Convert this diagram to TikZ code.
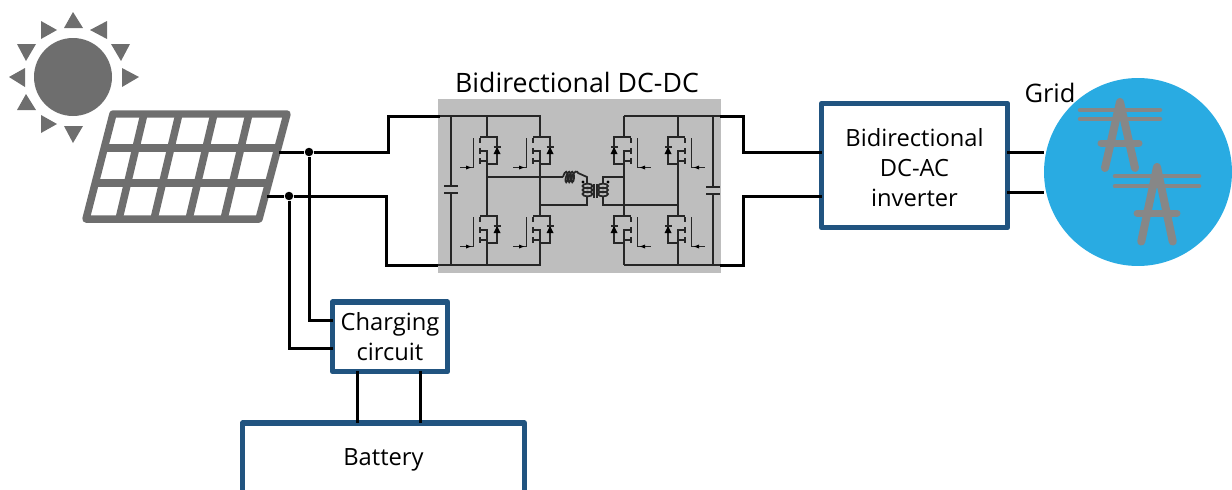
\documentclass[tikz,border=0pt]{standalone}
\usepackage{fontspec}
\setmainfont{Open Sans}
\definecolor{boxblue}{HTML}{215480}
\definecolor{gridblue}{HTML}{29ABE2}
\definecolor{icongray}{HTML}{6E6E6E}
\definecolor{towergray}{HTML}{878787}
\definecolor{dcgray}{HTML}{BEBEBE}
\tikzset{
  wire/.style={draw=black, line width=0.06cm},
  thin wire/.style={draw=black!85, line width=0.035cm},
  dot/.style={circle, fill=black, inner sep=0pt, minimum size=0.17cm},
  blockbox/.style={draw=boxblue, line width=0.11cm, line join=round, fill=white, outer sep=0pt, align=center, font=\fontsize{13.5}{17}\selectfont},
  mosfet/.pic={
    \draw[thin wire] (0,0) -- (-7,0);
    \draw[thin wire] (-7,14) -- (0,14) -- (0,24) -- (-7,24);
    \draw[thin wire] (-7.3,1) -- (-7.3,6) (-7.3,11) -- (-7.3,17) (-7.3,21) -- (-7.3,27);
    \draw[thin wire] (0,0) -- (10,0) -- (10,27) -- (0,27);
    \fill[black] (10,10) -- (6.5,17) -- (13.5,17) -- cycle;
    \draw[thin wire] (6.5,10) -- (13.5,10);
    \draw[thin wire] (-13.5,1) -- (-13.5,30.5) -- (-27,30.5);
    \fill[black] (-16,30.5) -- (-21,28.5) -- (-21,32.5) -- cycle;
  }
}

\begin{document}
\begin{tikzpicture}[x=0.02cm, y=-0.02cm]
\useasboundingbox (0,0) rectangle (1232,490);

% sun
\fill[icongray] (73,77) circle[radius=39];
\foreach \ax/\ay/\bx/\by/\cx/\cy in {73/12/64/28/83/28, 41/21/41/39/57/30, 107/21/107/39/90/30,
    17/44/36/44/26/61, 111/44/130/44/121/61, 9/77/25/68/25/87, 139/77/122/68/122/87,
    26/94/17/110/36/110, 41/115/41/133/57/124, 73/143/64/126/83/126}
  \fill[icongray] (\ax,\ay) -- (\bx,\by) -- (\cx,\cy) -- cycle;

% solar panel
\draw[icongray, line width=0.15cm, line join=round] (113,114) -- (287,114) -- (259,219) -- (86,219) -- cycle;
\draw[icongray, line width=0.15cm] (104,148) -- (278,148) (95,183) -- (269,183);
\foreach \tx/\bx in {144/119, 179/154, 214/189, 249/224}
  \draw[icongray, line width=0.15cm] (\tx,114) -- (\bx,219);

% blocks
\node[fill=dcgray, minimum width=5.66cm, minimum height=3.48cm, outer sep=0pt] (dcdc) at (579.5,186) {};
\node[font=\fontsize{15.2}{17}\selectfont] (dcdclabel) at (577,82) {Bidirectional DC-DC};
\node[circle, fill=gridblue, minimum size=3.76cm, inner sep=0pt, outer sep=0pt] (grid) at (1138,172) {};
\node[font=\fontsize{14.5}{17}\selectfont] (gridlabel) at (1050,93) {Grid};
\node[blockbox, minimum width=3.72cm, minimum height=2.48cm] (inverter) at (914.5,165.5) {\raisebox{-0.1cm}[\height][\depth]{\begin{tabular}{@{}c@{}}Bidirectional\\DC-AC\\inverter\end{tabular}}};
\node[blockbox, minimum width=2.3cm, minimum height=1.39cm] (charging) at (390,336.7) {Charging\\circuit};
\node[blockbox, minimum width=5.64cm, minimum height=1.46cm] (battery) at (383.5,459.5) {\raisebox{0.08cm}{Battery}};

% power lines in the grid circle
\foreach \ox/\oy/\sy/\wd in {1120/102/1/1, 1157/167/1.13/1.05} {
  \begin{scope}[shift={(\ox,\oy)}, yscale=\sy, xscale=\wd, towergray, line cap=round]
    \draw[line width=0.09cm] (-40,8) -- (40,8) (-40,17) -- (40,17);
    \draw[line width=0.16cm] (0,0) -- (-15,66) (0,0) -- (15,66);
    \draw[line width=0.14cm] (-19,41) -- (19,41);
  \end{scope}
}

% outer wiring
\node[dot] (jtop) at (309,152) {};
\node[dot] (jbot) at (289,196) {};
\coordinate (pvtop) at (279,152);
\coordinate (pvbot) at (267,196);
\coordinate (railA) at (440,116);
\coordinate (railB) at (438,265);
\coordinate (railC) at (720,116);
\coordinate (railD) at (720,265);
\coordinate (bendA) at (388,116);
\coordinate (bendB) at (386,265);
\coordinate (bendC) at (743,116);
\coordinate (bendD) at (743,265);
\draw[wire] (pvtop) -- (jtop) -- (bendA |- jtop) -- (bendA) -- (railA);
\draw[wire] (pvbot) -- (jbot) -- (bendB |- jbot) -- (bendB) -- (railB);
\draw[wire] (railC) -- (bendC) -- (bendC |- 0,152) -- (inverter.west |- 0,152);
\draw[wire] (railD) -- (bendD) -- (bendD |- 0,196) -- (inverter.west |- 0,196);
\draw[wire] (inverter.east |- 0,152) -- (grid.west |- 0,152);
\draw[wire] (inverter.east |- 0,192) -- (grid.west |- 0,192);
\draw[wire] (jtop) |- (charging.west |- 0,320);
\draw[wire] (jbot) |- (charging.west |- 0,348);
\draw[wire] (charging.south -| 357,0) -- (battery.north -| 357,0);
\draw[wire] (charging.south -| 420,0) -- (battery.north -| 420,0);

% converter, left bridge
\draw[thin wire] (railA) -- (540,116) -- (540,137) (railB) -- (540,265) -- (540,243);
\draw[thin wire] (451,116) -- (451,186) (451,193) -- (451,265);
\draw[thin wire] (444,186) -- (458,186) (444,193) -- (458,193);
\draw[thin wire] (487,116) -- (487,137) (487,161) -- (487,216) (487,240) -- (487,265);
\draw[thin wire] (540,161) -- (540,216) (540,240) -- (540,265);
\foreach \lx/\ly in {487/137, 540/137, 487/216, 540/216}
  \pic at (\lx,\ly) {mosfet};

% converter, right bridge
\draw[thin wire] (railC) -- (624,116) (railD) -- (624,265);
\draw[thin wire] (713,116) -- (713,187) (713,194) -- (713,265);
\draw[thin wire] (706,187) -- (720,187) (706,194) -- (720,194);
\draw[thin wire] (624,116) -- (624,137) (624,161) -- (624,216) (624,240) -- (624,265);
\draw[thin wire] (678,116) -- (678,137) (678,161) -- (678,216) (678,240) -- (678,265);
\foreach \lx/\ly in {624/137, 678/137, 624/216, 678/216}
  \pic[xscale=-1] at (\lx,\ly) {mosfet};

% transformer
\draw[thin wire] (487,177) -- (563,177);
\draw[thin wire] (563,177) .. controls (565,170) and (568,170) .. (568,177) .. controls (568,184) and (564,184) .. (566,177)
  .. controls (568,170) and (571,170) .. (571,177) .. controls (571,184) and (567,184) .. (569,177)
  .. controls (571,170) and (574,170) .. (574,177) .. controls (574,184) and (570,184) .. (572,177)
  .. controls (574,170) and (578,171) .. (578,173) -- (587,177) -- (587,184);
\foreach \cy in {186, 190, 194} {
  \draw[thin wire] (587.5,\cy) ellipse[x radius=5, y radius=2.4];
  \draw[thin wire] (603,\cy) ellipse[x radius=5, y radius=2.4];
}
\draw[thin wire] (587,197) -- (587,205) -- (540,205);
\draw[thin wire] (603,183) -- (603,177) -- (624,177);
\draw[thin wire] (603,197) -- (603,205) -- (678,205);
\draw[thin wire] (594,184) -- (594,198) (597,184) -- (597,198);
\fill[black] (583,182) circle[radius=1.7] (608,182) circle[radius=1.7];
\end{tikzpicture}
\end{document}
